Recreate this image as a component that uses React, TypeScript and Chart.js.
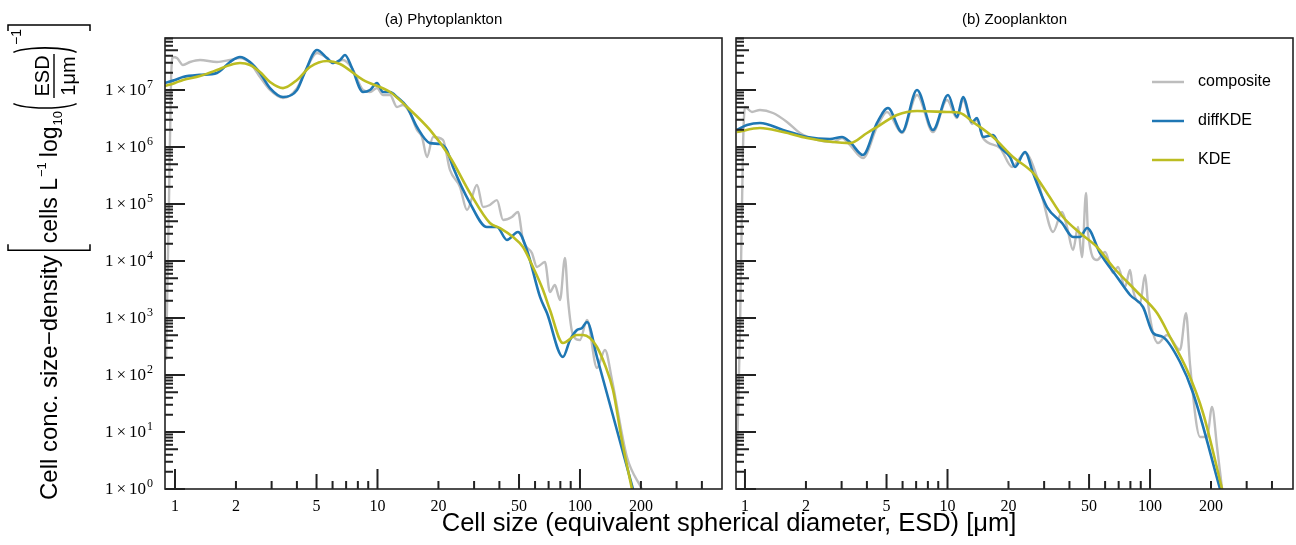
import React, { useEffect, useRef } from 'react';
import { Chart, registerables } from 'chart.js';
Chart.register(...registerables);

// ---------------- data: (a) Phytoplankton ----------------
const phytoCompositeX = [0.903,0.934,0.956,0.977,1.023,1.095,1.186,1.329,1.612,1.869,2.094,2.345,2.629,2.945,3.415,4.005,4.385,5.024,5.63,6.03,6.75,7.48,8.48,9.18,9.94,10.65,11.53,12.48,13.36,14.46,15.67,16.59,17.56,18.8,21.05,22.8,25.55,27.67,31.0,33.2,35.9,38.9,41.7,46.1,49.4,52.3,57.9,61.3,67.1,71.1,75.2,79.7,84.3,87.3,92.3,100,108.3,121.3,132.9,143.9,170.6,202.3];
const phytoCompositeY = [183,1.17e5,1.5e7,3.79e7,3.64e7,2.75e7,3.10e7,3.36e7,3.10e7,3.36e7,3.64e7,2.98e7,1.69e7,1.0e7,7.24e6,1.08e7,2.07e7,4.46e7,3.64e7,2.98e7,3.36e7,2.43e7,1.0e7,9.23e6,1.08e7,8.17e6,8.17e6,5.04e6,5.46e6,3.95e6,1.99e6,1.50e6,6.68e5,1.50e6,1.33e6,3.95e5,1.99e5,7.85e4,2.15e5,8.85e4,9.6e4,1.17e5,5.24e4,5.92e4,7.24e4,2.34e4,1.38e4,7.85e3,9.6e3,2.86e3,3.79e3,2.07e3,1.13e4,2.07e3,504,411,923,133,275,82,3.64,1];

const phytoDiffX = [0.892,1.0,1.095,1.329,1.612,1.869,2.094,2.345,2.629,2.945,3.415,4.005,4.385,5.024,5.63,6.03,6.53,6.91,7.48,8.48,9.18,9.94,10.65,11.53,12.48,13.99,15.67,18.16,20.36,22.0,23.6,28.63,34.7,38.9,43.6,49.4,54.7,63.5,68.7,82.4,89.3,96.6,102.3,108.3,121.3,148.9,182.7];
const phytoDiffY = [1.33e7,1.5e7,1.69e7,1.84e7,1.99e7,3.10e7,3.79e7,3.10e7,1.99e7,1.08e7,7.54e6,1.0e7,2.07e7,5.03e7,3.64e7,2.98e7,3.36e7,4.11e7,2.43e7,9.23e6,1.0e7,1.33e7,9.23e6,9.23e6,7.54e6,5.04e6,2.24e6,1.17e6,1.13e6,8.85e5,4.46e5,1.04e5,3.95e4,3.95e4,2.34e4,3.23e4,1.56e4,2.34e3,1.22e3,207,411,615,668,851,207,14.4,1];

const phytoKdeX = [0.892,1.0,1.095,1.329,1.612,1.869,2.094,2.345,2.629,2.945,3.415,4.005,4.64,5.63,6.53,8.48,11.53,13.99,18.16,22.8,28.63,35.9,40.3,46.7,52.3,58.6,65.7,71.1,82.4,96.6,103.5,112,121.3,132.9,145.5,161,180.6];
const phytoKdeY = [1.17e7,1.33e7,1.5e7,1.76e7,2.24e7,2.75e7,2.98e7,2.75e7,2.07e7,1.38e7,1.08e7,1.5e7,2.53e7,3.23e7,2.86e7,1.5e7,9.23e6,5.04e6,1.99e6,6.68e5,1.56e5,4.64e4,3.79e4,2.64e4,1.76e4,7.85e3,3.10e3,1.38e3,364,504,504,446,310,150,55,7.24,1];

// ---------------- data: (b) Zooplankton ----------------
const zooCompositeX = [0.913,0.945,0.977,1.0,1.083,1.186,1.375,1.612,1.869,2.268,2.72,3.013,3.301,3.825,4.486,5.025,5.96,7.07,8.48,9.94,11.14,11.93,13.21,13.99,14.97,18.17,20.83,24.14,27.67,29.62,33.19,36.77,38.92,41.68,44.1,46.15,48.3,49.4,54.7,59.95,65.7,69.5,75.2,79.7,82.4,89.3,94.5,97.7,103.5,109.5,121.3,140.6,150.6,157.6,176.6,191.2,202.3,214.2,226.8];
const zooCompositeY = [3.95,615,8.85e5,5.04e6,4.11e6,4.46e6,3.95e6,2.75e6,1.76e6,1.33e6,1.22e6,1.44e6,1.08e6,6.41e5,2.24e6,4.11e6,1.76e6,8.17e6,1.83e6,6.68e6,3.23e6,6.68e6,2.53e6,2.98e6,1.44e6,9.6e5,4.46e5,7.85e5,2.98e5,1.17e5,3.23e4,7.24e4,3.95e4,1.56e4,3.95e4,1.17e4,1.56e5,3.10e4,1.04e4,1.44e4,6.15e3,7.85e3,3.50e3,6.95e3,3.10e3,1.83e3,5.68e3,1.83e3,546,364,504,275,1.22e3,150,8.17,8.17,27.5,5.46,1];

const zooDiffX = [0.913,1.023,1.186,1.541,2.024,2.629,3.013,3.301,3.825,4.486,5.083,5.96,7.07,8.48,10.06,11.14,11.93,13.21,13.99,14.97,16.78,18.17,20.36,21.54,24.14,26.44,31.0,36.77,41.68,45.1,48.87,56.6,68.7,79.7,92.3,103.5,115.9,140.6,163.1,221.7];
const zooDiffY = [1.99e6,2.43e6,2.64e6,1.99e6,1.50e6,1.38e6,1.50e6,1.22e6,7.24e5,2.64e6,4.83e6,1.83e6,1.0e7,1.99e6,8.17e6,3.36e6,7.54e6,2.75e6,3.23e6,1.50e6,1.62e6,1.0e6,6.68e5,4.46e5,8.17e5,3.50e5,8.85e4,4.64e4,2.64e4,2.64e4,3.79e4,1.38e4,5.24e3,2.53e3,1.56e3,546,464,169,48.3,1];

const zooKdeX = [0.913,1.186,1.541,2.024,2.72,3.301,4.005,4.642,5.63,7.07,9.94,11.53,13.36,16.78,21.06,26.44,31.0,37.19,45.1,54.7,65.7,86.3,108.3,125.6,152.3,182.7,226.8];
const zooKdeY = [1.83e6,2.15e6,1.83e6,1.44e6,1.22e6,1.17e6,1.76e6,2.43e6,3.64e6,4.28e6,4.11e6,3.95e6,2.75e6,1.50e6,6.68e5,3.50e5,1.56e5,5.92e4,3.10e4,1.76e4,7.85e3,2.86e3,1.22e3,464,122,21.5,1];

// ---------------- axes / labels ----------------
const seriesNames = ['composite', 'diffKDE', 'KDE'];
const panelTitles = ['(a) Phytoplankton', '(b) Zooplankton'];
const xTickLabelValues = [1, 2, 5, 10, 20, 50, 100, 200];
const xTickLabels = ['1', '2', '5', '10', '20', '50', '100', '200'];
const xMinorTickValues = [2, 3, 4, 6, 7, 8, 9, 20, 30, 40, 60, 70, 80, 90, 200, 300, 400];
const xMidTickValues = [5, 50];
const xMajorTickValues = [1, 10, 100];
const yDecadeExponents = [0, 1, 2, 3, 4, 5, 6, 7];
const yMinorMultipliers = [2, 3, 4, 6, 7, 8, 9];
const yMidMultipliers = [5];
const xLabel = 'Cell size (equivalent spherical diameter, ESD) [\u03bcm]';

const COL_COMPOSITE = '#bdbdbd';
const COL_DIFF = '#1f77b4';
const COL_KDE = '#bcbd22';
const AXIS_COL = '#222222';
const SANS = '"Liberation Sans", Arial, Helvetica, sans-serif';
const SERIF = '"Liberation Serif", "Times New Roman", "DejaVu Serif", serif';

const Y_MIN = 1;
const Y_MAX = 8.17e7;

function pts(xs: number[], ys: number[]) {
  return xs.map((x, i) => ({ x, y: ys[i] }));
}

function drawFrameAndTicks(chart: any, withYLabels: boolean) {
  const { ctx, chartArea: a } = chart;
  const xs = chart.scales.x;
  const ys = chart.scales.y;
  ctx.save();
  ctx.strokeStyle = AXIS_COL;
  ctx.lineWidth = 1.6;
  ctx.strokeRect(a.left, a.top, a.right - a.left, a.bottom - a.top);

  ctx.lineWidth = 2;
  ctx.beginPath();
  const xTick = (v: number, len: number) => {
    const px = xs.getPixelForValue(v);
    if (px < a.left || px > a.right) return;
    ctx.moveTo(px, a.bottom);
    ctx.lineTo(px, a.bottom - len);
  };
  xMajorTickValues.forEach((v) => xTick(v, 20));
  xMidTickValues.forEach((v) => xTick(v, 15));
  xMinorTickValues.forEach((v) => xTick(v, 8));

  const yTick = (v: number, len: number) => {
    const py = ys.getPixelForValue(v);
    if (py < a.top - 0.5 || py > a.bottom + 0.5) return;
    ctx.moveTo(a.left, py);
    ctx.lineTo(a.left + len, py);
  };
  yDecadeExponents.forEach((k) => {
    yTick(Math.pow(10, k), 20);
    yMidMultipliers.forEach((m) => yTick(m * Math.pow(10, k), 13));
    yMinorMultipliers.forEach((m) => yTick(m * Math.pow(10, k), 8));
  });
  ctx.stroke();

  // x tick labels
  ctx.fillStyle = '#000';
  ctx.font = `16px ${SERIF}`;
  ctx.textAlign = 'center';
  ctx.textBaseline = 'top';
  xTickLabelValues.forEach((v, i) => {
    ctx.fillText(xTickLabels[i], xs.getPixelForValue(v), a.bottom + 10);
  });

  if (withYLabels) {
    const right = a.left - 12;
    yDecadeExponents.forEach((k) => {
      const py = ys.getPixelForValue(Math.pow(10, k));
      ctx.font = `17px ${SERIF}`;
      const w1 = ctx.measureText('1').width;
      const wx = ctx.measureText('\u00d7').width;
      const w10 = ctx.measureText('10').width;
      ctx.font = `12px ${SERIF}`;
      const we = ctx.measureText(String(k)).width;
      const total = w1 + 3 + wx + 3 + w10 + 1 + we;
      let x0 = right - total;
      ctx.textAlign = 'left';
      ctx.textBaseline = 'middle';
      ctx.font = `17px ${SERIF}`;
      ctx.fillText('1', x0, py + 1);
      x0 += w1 + 3;
      ctx.fillText('\u00d7', x0, py + 1);
      x0 += wx + 3;
      ctx.fillText('10', x0, py + 1);
      x0 += w10 + 1;
      ctx.font = `12px ${SERIF}`;
      ctx.fillText(String(k), x0, py - 5);
    });
  }
  ctx.restore();
}

function drawTitle(chart: any, text: string) {
  const { ctx, chartArea: a } = chart;
  ctx.save();
  ctx.fillStyle = '#000';
  ctx.font = `15px ${SANS}`;
  ctx.textAlign = 'center';
  ctx.textBaseline = 'middle';
  ctx.fillText(text, (a.left + a.right) / 2, 20);
  ctx.restore();
}

function drawYLabel(ctx: CanvasRenderingContext2D) {
  ctx.save();
  ctx.translate(0, 500);
  ctx.rotate(-Math.PI / 2);
  // local coords: u = upward along screen, v = rightward on screen
  ctx.fillStyle = '#000';
  ctx.strokeStyle = '#000';
  ctx.textBaseline = 'alphabetic';
  ctx.textAlign = 'left';
  const base = 57;
  ctx.font = `24px ${SANS}`;
  const t1 = 'Cell conc. size\u2212density';
  ctx.fillText(t1, 0, base);
  let u = ctx.measureText(t1).width + 5;
  // opening bracket
  ctx.lineWidth = 1.5;
  ctx.beginPath();
  ctx.moveTo(u + 6, 8);
  ctx.lineTo(u, 8);
  ctx.lineTo(u, 90);
  ctx.lineTo(u + 6, 90);
  ctx.stroke();
  u += 7;
  ctx.font = `23px ${SANS}`;
  ctx.fillText('cells L', u, base);
  u += ctx.measureText('cells L').width + 1;
  ctx.font = `13px ${SANS}`;
  ctx.fillText('\u22121', u, base - 11);
  u += ctx.measureText('\u22121').width + 5;
  ctx.font = `23px ${SANS}`;
  ctx.fillText('log', u, base);
  u += ctx.measureText('log').width + 1;
  ctx.font = `13px ${SANS}`;
  ctx.fillText('10', u, base + 5);
  u += ctx.measureText('10').width + 1;
  // left paren
  ctx.lineWidth = 1.6;
  ctx.beginPath();
  ctx.ellipse(u + 9, 45, 7, 34, 0, Math.PI * 0.62, Math.PI * 1.38);
  ctx.stroke();
  u += 12;
  // fraction
  ctx.font = `20px ${SANS}`;
  const wEsd = ctx.measureText('ESD').width;
  const wUm = ctx.measureText('1\u03bcm').width;
  const wf = Math.max(wEsd, wUm) + 3;
  ctx.fillText('ESD', u + (wf - wEsd) / 2, 49);
  ctx.fillText('1\u03bcm', u + (wf - wUm) / 2, 75);
  ctx.lineWidth = 1.4;
  ctx.beginPath();
  ctx.moveTo(u, 54);
  ctx.lineTo(u + wf, 54);
  ctx.stroke();
  u += wf;
  // right paren
  ctx.lineWidth = 1.6;
  ctx.beginPath();
  ctx.ellipse(u - 1, 45, 7, 34, 0, -Math.PI * 0.38, Math.PI * 0.38);
  ctx.stroke();
  u += 9;
  ctx.font = `14px ${SANS}`;
  ctx.fillText('\u22121', u, 21);
  u += ctx.measureText('\u22121').width + 4;
  // closing bracket
  ctx.lineWidth = 1.5;
  ctx.beginPath();
  ctx.moveTo(u - 6, 8);
  ctx.lineTo(u, 8);
  ctx.lineTo(u, 90);
  ctx.lineTo(u - 6, 90);
  ctx.stroke();
  ctx.restore();
}

function drawLegend(ctx: CanvasRenderingContext2D, ox: number) {
  const items = [
    { name: seriesNames[0], col: COL_COMPOSITE },
    { name: seriesNames[1], col: COL_DIFF },
    { name: seriesNames[2], col: COL_KDE },
  ];
  ctx.save();
  ctx.font = `16px ${SANS}`;
  ctx.textBaseline = 'middle';
  ctx.textAlign = 'left';
  items.forEach((it, i) => {
    const y = 82 + i * 39;
    ctx.strokeStyle = it.col;
    ctx.lineWidth = 2.5;
    ctx.beginPath();
    ctx.moveTo(1152 - ox, y);
    ctx.lineTo(1184 - ox, y);
    ctx.stroke();
    ctx.fillStyle = '#000';
    ctx.fillText(it.name, 1198 - ox, y);
  });
  ctx.restore();
}

function makeDatasets(cx: number[], cy: number[], dx: number[], dy: number[], kx: number[], ky: number[]) {
  return [
    { label: seriesNames[2], data: pts(kx, ky), borderColor: COL_KDE, borderWidth: 2.6 },
    { label: seriesNames[1], data: pts(dx, dy), borderColor: COL_DIFF, borderWidth: 2.6 },
    { label: seriesNames[0], data: pts(cx, cy), borderColor: COL_COMPOSITE, borderWidth: 2.4 },
  ].map((d) => ({ ...d, fill: false, pointRadius: 0, cubicInterpolationMode: 'monotone' as const }));
}

function baseOptions(xmin: number, xmax: number, padding: any) {
  return {
    animation: false as const,
    responsive: false,
    maintainAspectRatio: false,
    layout: { padding },
    plugins: { legend: { display: false }, tooltip: { enabled: false }, title: { display: false } },
    scales: {
      x: { type: 'logarithmic' as const, min: xmin, max: xmax, display: false },
      y: { type: 'logarithmic' as const, min: Y_MIN, max: Y_MAX, display: false },
    },
    events: [] as any[],
  };
}

export default function App() {
  const leftRef = useRef<HTMLCanvasElement>(null);
  const rightRef = useRef<HTMLCanvasElement>(null);

  useEffect(() => {
    const left = new Chart(leftRef.current as HTMLCanvasElement, {
      type: 'line',
      data: { datasets: makeDatasets(phytoCompositeX, phytoCompositeY, phytoDiffX, phytoDiffY, phytoKdeX, phytoKdeY) as any },
      options: baseOptions(0.8925, 502.8, { left: 165, right: 1296 - 722, top: 38, bottom: 545 - 489 }) as any,
      plugins: [
        {
          id: 'decorLeft',
          afterDraw(chart: any) {
            drawFrameAndTicks(chart, true);
            drawTitle(chart, panelTitles[0]);
            drawYLabel(chart.ctx);
            const ctx = chart.ctx;
            ctx.save();
            ctx.fillStyle = '#000';
            ctx.font = `25.5px ${SANS}`;
            ctx.textAlign = 'center';
            ctx.textBaseline = 'middle';
            ctx.fillText(xLabel, 729, 524);
            ctx.restore();
          },
        },
      ],
    });
    const right = new Chart(rightRef.current as HTMLCanvasElement, {
      type: 'line',
      data: { datasets: makeDatasets(zooCompositeX, zooCompositeY, zooDiffX, zooDiffY, zooKdeX, zooKdeY) as any },
      options: baseOptions(0.903, 508, { left: 8, right: 3, top: 38, bottom: 545 - 489 }) as any,
      plugins: [
        {
          id: 'decorRight',
          afterDraw(chart: any) {
            drawFrameAndTicks(chart, false);
            drawTitle(chart, panelTitles[1]);
            drawLegend(chart.ctx, 728);
          },
        },
      ],
    });
    return () => {
      left.destroy();
      right.destroy();
    };
  }, []);

  return (
    <div style={{ position: 'absolute', left: 0, top: 0, width: 1296, height: 545, background: '#fff' }}>
      <canvas ref={leftRef} width={1296} height={545} style={{ position: 'absolute', left: 0, top: 0 }} />
      <canvas ref={rightRef} width={568} height={545} style={{ position: 'absolute', left: 728, top: 0 }} />
    </div>
  );
}
